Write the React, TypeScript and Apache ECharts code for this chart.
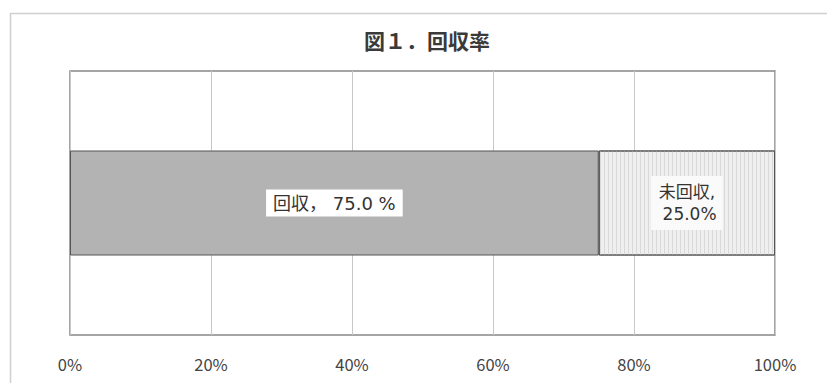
import React, { useEffect, useRef } from "react";
import * as echarts from "echarts";

const categories = ["回収率"];
const collected = [75.0];
const uncollected = [25.0];
const tickMax = 100;
const tickInterval = 20;

export default function App() {
  const ref = useRef<HTMLDivElement>(null);
  useEffect(() => {
    if (!ref.current) return;
    const chart = echarts.init(ref.current, null, { renderer: "svg" });
    const font = "'Noto Sans CJK JP', 'Noto Sans', sans-serif";
    const labelFont = "'DejaVu Sans', 'Noto Sans CJK JP', sans-serif";
    chart.setOption({
      animation: false,
      backgroundColor: "#ffffff",
      title: {
        text: "図１．回収率",
        left: 422,
        top: 24,
        textAlign: "center",
        textStyle: { fontFamily: font, fontSize: 21, fontWeight: "bold", color: "#3a3a3a" },
      },
      graphic: [
        {
          type: "rect",
          shape: { x: 10.5, y: 13.5, width: 840, height: 400 },
          style: { fill: "none", stroke: "#d0d0d0", lineWidth: 1.5 },
          silent: true,
        },
      ],
      grid: {
        left: 70,
        top: 71,
        width: 705,
        height: 264,
        show: true,
        borderColor: "#888",
        borderWidth: 1.5,
        backgroundColor: "transparent",
      },
      xAxis: {
        type: "value",
        min: 0,
        max: tickMax,
        interval: tickInterval,
        axisLine: { show: false },
        axisTick: { show: false },
        splitLine: { lineStyle: { color: "#c8c8c8", width: 1 } },
        axisLabel: {
          formatter: "{value}%",
          margin: 21,
          color: "#444",
          fontSize: 16.5,
          fontFamily: font,
        },
      },
      yAxis: {
        type: "category",
        data: categories,
        show: false,
      },
      series: [
        {
          name: "回収",
          type: "bar",
          stack: "total",
          data: collected,
          barWidth: 105,
          itemStyle: { color: "#b3b3b3", borderColor: "#555", borderWidth: 1 },
          label: {
            show: true,
            position: "inside",
            formatter: (p: any) => `回収， ${p.value.toFixed(1)} %`,
            backgroundColor: "#ffffff",
            padding: [5, 7, 4, 7],
            color: "#333",
            fontSize: 18,
            fontFamily: labelFont,
          },
        },
        {
          name: "未回収",
          type: "bar",
          stack: "total",
          data: uncollected,
          barWidth: 105,
          itemStyle: {
            color: "#efefef",
            borderColor: "#555",
            borderWidth: 1,
            decal: {
              symbol: "rect",
              color: "#d9d9d9",
              dashArrayX: [1, 3],
              dashArrayY: [4, 0],
              symbolSize: 1,
              rotation: 0,
            },
          },
          label: {
            show: true,
            position: "inside",
            formatter: (p: any) => `未回収,\n ${p.value.toFixed(1)}%`,
            backgroundColor: "#fafafa",
            padding: [5, 6, 5, 6],
            lineHeight: 22,
            color: "#333",
            fontSize: 17,
            fontFamily: labelFont,
          },
        },
      ],
    });
    return () => chart.dispose();
  }, []);
  return (
    <div
      ref={ref}
      style={{ position: "fixed", left: 0, top: 0, width: 827, height: 383 }}
    />
  );
}
